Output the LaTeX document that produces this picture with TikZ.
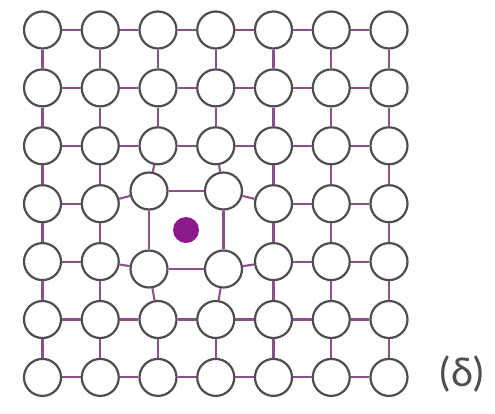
\documentclass[tikz,border=0pt]{standalone}
\usepackage{fontspec}
\newfontfamily\labelfont{Carlito}
\definecolor{bondcol}{RGB}{140,80,140}
\definecolor{ringcol}{RGB}{78,78,78}
\definecolor{defectcol}{RGB}{140,25,140}
\begin{document}
\begin{tikzpicture}[x=1pt,y=-1pt,
  atom/.style={circle,draw=ringcol,line width=2.2pt,fill=white,minimum size=37pt,inner sep=0pt},
  bond/.style={draw=bondcol,line width=2.1pt},
  interstitial/.style={circle,fill=defectcol,minimum size=26pt,inner sep=0pt},
  caption/.style={text=ringcol,font=\labelfont\fontsize{42}{50}\selectfont,inner sep=0pt}
]
\useasboundingbox (0,0) rectangle (495,413);

% regular lattice sites (the four sites around the interstitial are placed separately)
\foreach \i in {0,...,6}{
  \foreach \j in {0,...,6}{
    \pgfmathsetmacro\px{42.5+57.75*\i}
    \pgfmathsetmacro\py{30+57.9*\j}
    \pgfmathtruncatemacro\moved{((\i==2)||(\i==3))&&((\j==3)||(\j==4))}
    \ifnum\moved=0
      \node[atom] (a-\i-\j) at (\px,\py) {};
    \fi
  }
}

% atoms pushed outward by the interstitial
\node[atom] (a-2-3) at (149,191) {};
\node[atom] (a-3-3) at (223.5,191) {};
\node[atom] (a-2-4) at (149,269) {};
\node[atom] (a-3-4) at (223.5,269) {};

% interstitial atom
\node[interstitial] (vac) at (186,230) {};

% bonds
\foreach \i in {0,...,5}{
  \foreach \j in {0,...,6}{
    \pgfmathtruncatemacro\k{\i+1}
    \draw[bond] (a-\i-\j) -- (a-\k-\j);
    \draw[bond] (a-\j-\i) -- (a-\j-\k);
  }
}

\node[caption] (lab) at (462,374) {(δ)};
\end{tikzpicture}
\end{document}
